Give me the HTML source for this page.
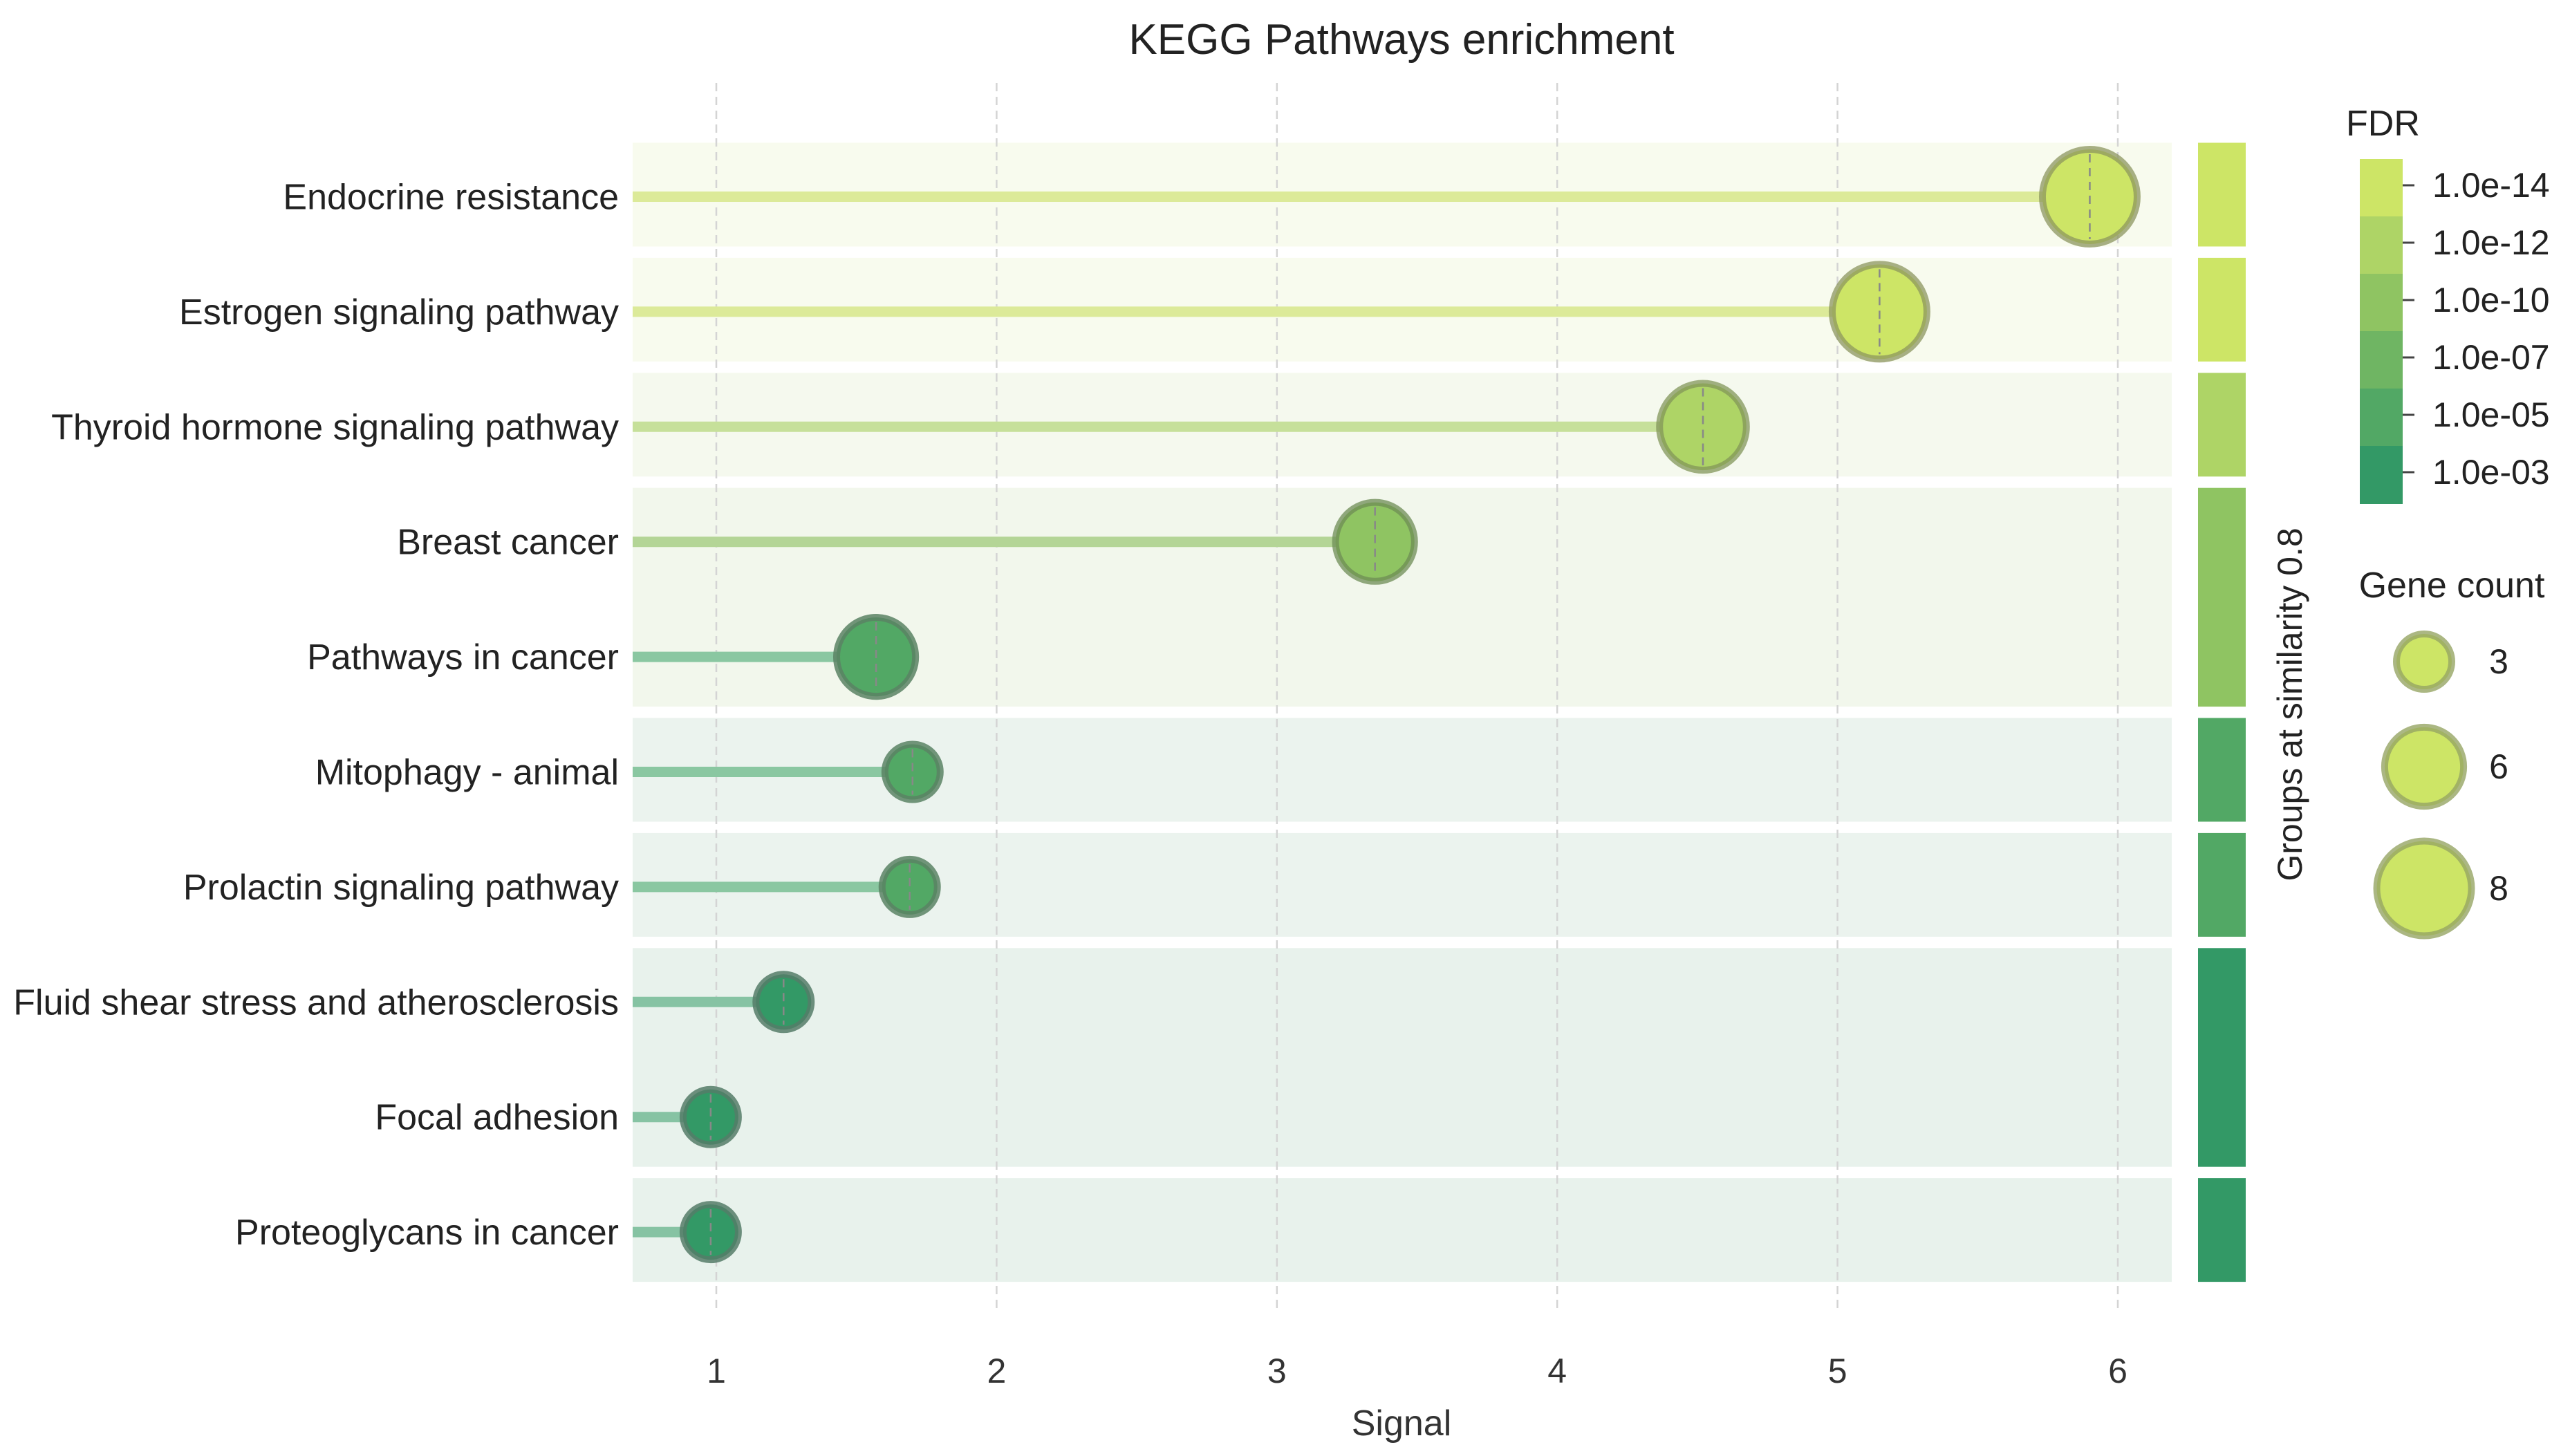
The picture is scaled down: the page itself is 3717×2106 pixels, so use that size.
<!DOCTYPE html>
<html><head><meta charset="utf-8"><style>
html,body{margin:0;padding:0;background:#fff;}
svg{display:block;font-family:"Liberation Sans",Arial,sans-serif;}
</style></head><body>
<svg id="chart" width="3717" height="2106" viewBox="0 0 3717 2106">
<text x="2027" y="78" font-size="62" text-anchor="middle" fill="#222">KEGG Pathways enrichment</text>
<g id="bands"></g><g id="grid"></g><g id="marks"></g><g id="labels"></g><g id="legend"></g>
</svg>
<script>
const categories = ["Endocrine resistance","Estrogen signaling pathway","Thyroid hormone signaling pathway","Breast cancer","Pathways in cancer","Mitophagy - animal","Prolactin signaling pathway","Fluid shear stress and atherosclerosis","Focal adhesion","Proteoglycans in cancer"];
const signalValues = [5.9, 5.15, 4.52, 3.35, 1.57, 1.7, 1.69, 1.24, 0.98, 0.98];
const geneCounts = [8, 8, 7, 6, 6, 3, 3, 3, 3, 3];
const fdrLevel = [0, 0, 1, 2, 4, 4, 4, 5, 5, 5];
const groupStarts = [0, 1, 2, 3, 5, 6, 7, 9];
const groupEnds = [0, 1, 2, 4, 5, 6, 8, 9];
const groupLevel = [0, 0, 1, 2, 4, 4, 5, 5];
const xTicks = [1, 2, 3, 4, 5, 6];
const fdrLabels = ["1.0e-14","1.0e-12","1.0e-10","1.0e-07","1.0e-05","1.0e-03"];
const sizeLegend = [3, 6, 8];

const NS="http://www.w3.org/2000/svg";
const palette=["#cde566","#aed466","#8fc462","#6fb563","#52a865","#339966"];
const strokeCol=["rgba(140,150,95,0.75)","rgba(130,150,90,0.75)","rgba(110,140,85,0.75)","rgba(95,130,95,0.8)","rgba(90,130,100,0.85)","rgba(85,125,105,0.85)"];
const lineCol=["#dcea99","#c6e09a","#b4d596","#9fcb98","#8ac7a1","#86c3a3"];
const bandCol=["#f8fbee","#f8fbee","#f5f9ee","#f2f7ec","#ebf3ee","#ebf3ee","#e8f2ec","#e8f2ec"];
const X0=915,X1=3141;
const xs=v=>1036+(v-1)*405.4;
const ys=i=>284.5+i*166.4;
const rs=c=>45+(c-3)*5.7;
function mk(tag,attrs,parent){const e=document.createElementNS(NS,tag);for(const k in attrs)e.setAttribute(k,attrs[k]);document.getElementById(parent).appendChild(e);return e;}

xTicks.forEach(t=>{
  const l=mk('line',{x1:xs(t),x2:xs(t),y1:120,y2:1900,stroke:'#d4d4d4','stroke-width':2.5,'stroke-dasharray':'12 8'},'grid');
  
  
  const tx=mk('text',{x:xs(t),y:2000,'font-size':50,'text-anchor':'middle',fill:'#333'},'labels');
  tx.textContent=t;
  
  
});
const xt=mk('text',{x:2027,y:2076,'font-size':52,'text-anchor':'middle',fill:'#333'},'labels');
xt.textContent='Signal';



groupStarts.forEach((s,g)=>{
  const y0=ys(s)-78,y1=ys(groupEnds[g])+72;
  const b=mk('rect',{x:X0,y:y0,width:X1-X0,height:y1-y0,fill:bandCol[g]},'bands');
  
  
  const gb=mk('rect',{x:3179,y:y0,width:69,height:y1-y0,fill:palette[groupLevel[g]]},'bands');
  
  
});

categories.forEach((c,i)=>{
  const y=ys(i),x=xs(signalValues[i]),r=rs(geneCounts[i]),lv=fdrLevel[i];
  const ln=mk('line',{x1:X0,x2:x,y1:y,y2:y,stroke:lineCol[lv],'stroke-width':15},'marks');
  
  
  const ci=mk('circle',{cx:x,cy:y,r:r-5,fill:palette[lv],stroke:strokeCol[lv],'stroke-width':10},'marks');
  
  
  const dl=mk('line',{x1:x,x2:x,y1:y-r+12,y2:y+r-12,stroke:'#888','stroke-width':2.5,'stroke-dasharray':'12 8'},'marks');
  
  
  const t=mk('text',{x:895,y:y+18,'font-size':52,'text-anchor':'end',fill:'#222'},'labels');
  t.textContent=c;
  
  
});

const gl=mk('text',{x:0,y:0,'font-size':50,'text-anchor':'middle',fill:'#222',transform:'translate(3329,1019) rotate(-90)'},'legend');
gl.textContent='Groups at similarity 0.8';



const ft=mk('text',{x:3393,y:196,'font-size':52,fill:'#222'},'legend');
ft.textContent='FDR';


fdrLabels.forEach((lb,k)=>{
  const y0=230+k*83;
  const r=mk('rect',{x:3413,y:y0,width:62,height:84,fill:palette[k]},'legend');
  
  
  const yc=268+k*83;
  const tk=mk('line',{x1:3475,x2:3492,y1:yc,y2:yc,stroke:'#444','stroke-width':3},'legend');
  
  
  const t=mk('text',{x:3518,y:yc+17,'font-size':50,fill:'#222'},'legend');
  t.textContent=lb;
  
  
});

const gt=mk('text',{x:3546,y:864,'font-size':52,'text-anchor':'middle',fill:'#222'},'legend');
gt.textContent='Gene count';


const sizeY=[957,1109,1285];
sizeLegend.forEach((s,k)=>{
  const r=rs(s);
  const c=mk('circle',{cx:3506,cy:sizeY[k],r:r-5,fill:'#cde566',stroke:'rgba(150,165,100,0.8)','stroke-width':10},'legend');
  
  
  const t=mk('text',{x:3614,y:sizeY[k]+17,'font-size':50,'text-anchor':'middle',fill:'#222'},'legend');
  t.textContent=s;
  
  
});
</script>
</body></html>
